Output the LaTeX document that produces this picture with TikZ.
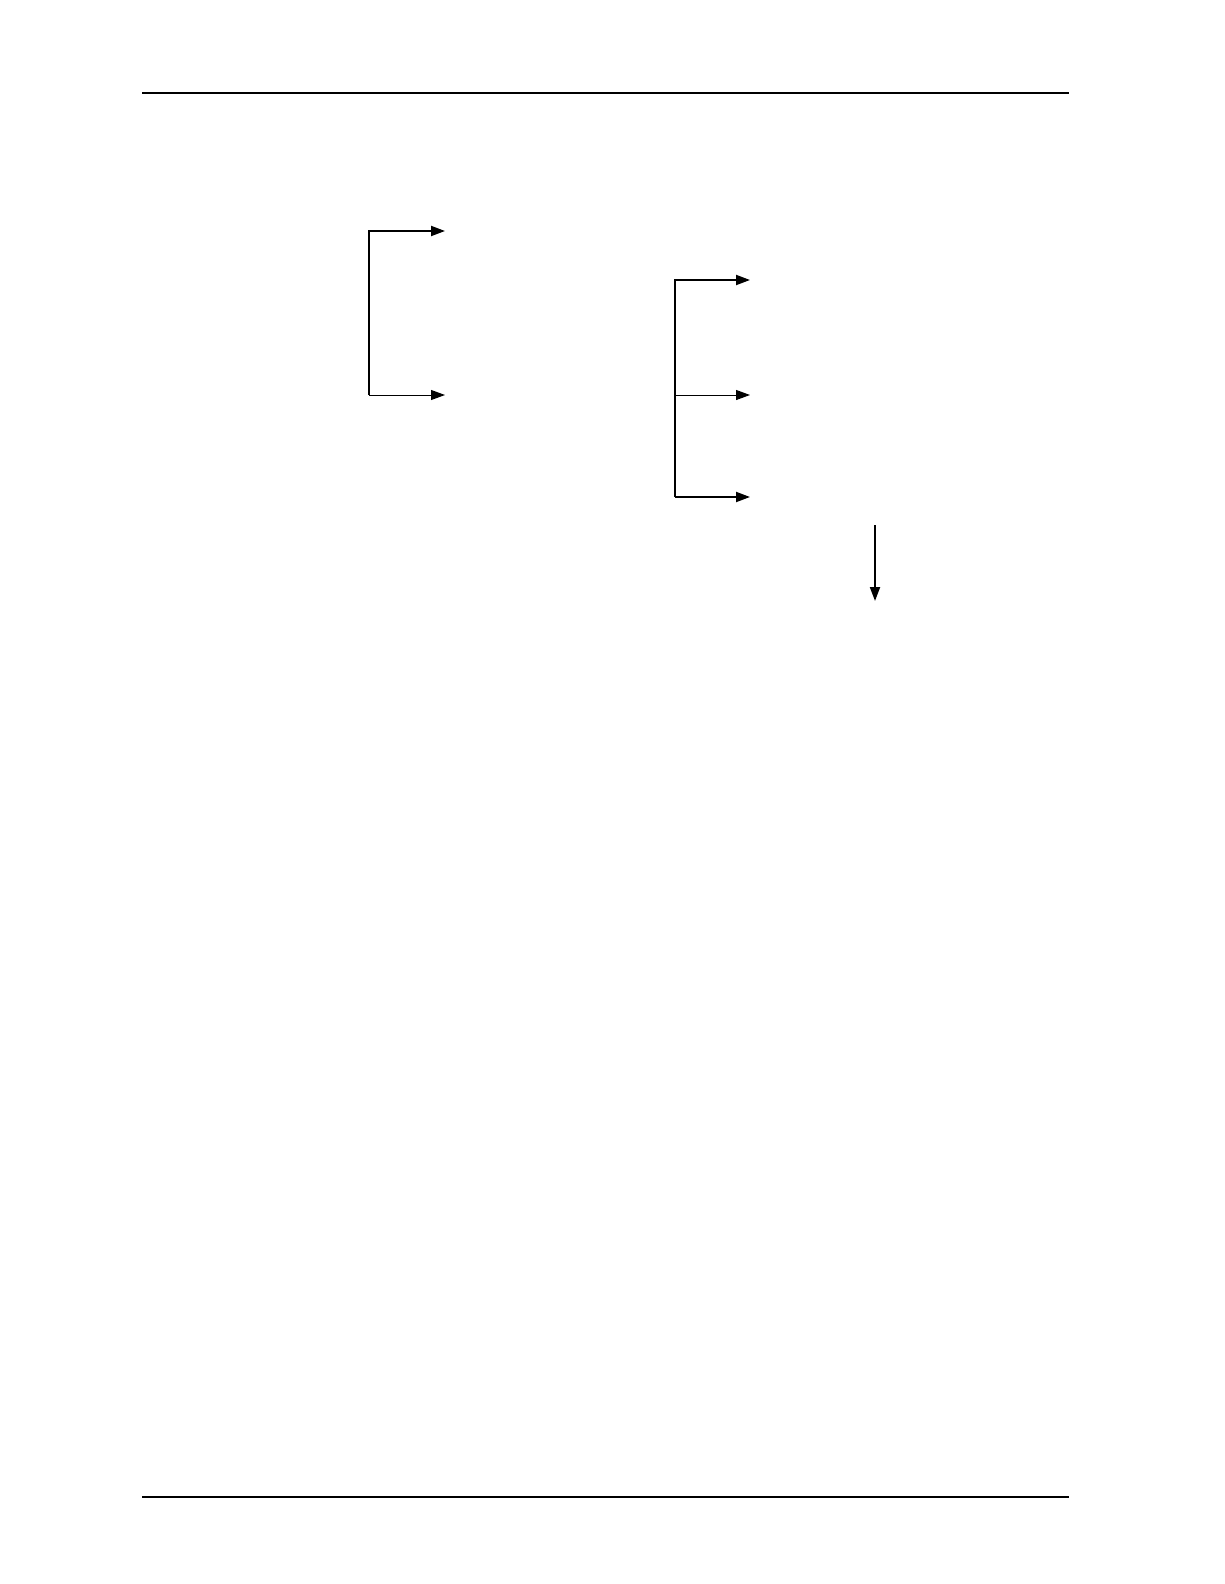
\documentclass[tikz,border=0pt]{standalone}
\usetikzlibrary{arrows.meta}
\begin{document}
\begin{tikzpicture}[x=1pt,y=-1pt,
  thickline/.style={line width=2pt},
  thinline/.style={line width=1pt},
  arr/.style={-{Triangle[length=14pt,width=10pt]}},
  rule/.style={line width=1.3pt}]
\useasboundingbox (0,0) rectangle (1224,1584);
% page rules
\coordinate (tl) at (142,93);
\coordinate (tr) at (1069,93);
\coordinate (bl) at (142,1497);
\coordinate (br) at (1069,1497);
\draw[rule] (tl) -- (tr);
\draw[rule] (bl) -- (br);
% left bracket
\coordinate (L1) at (369,231);
\coordinate (L2) at (369,395);
\coordinate (L1e) at (445,231);
\coordinate (L2e) at (445,395);
\draw[thickline,arr] (L2) -- (L1) -- (L1e);
\draw[thinline,arr] (L2) -- (L2e);
% right bracket
\coordinate (R1) at (675,280);
\coordinate (R2) at (675,395);
\coordinate (R3) at (675,497);
\coordinate (R1e) at (750,280);
\coordinate (R2e) at (750,395);
\coordinate (R3e) at (750,497);
\draw[thickline,arr] (R3) -- (R1) -- (R1e);
\draw[thickline,arr] (R3) -- (R3e);
\draw[thinline,arr] (R2) -- (R2e);
% down arrow
\coordinate (D1) at (875,525);
\coordinate (D2) at (875,601);
\draw[thickline,arr] (D1) -- (D2);
\end{tikzpicture}
\end{document}
